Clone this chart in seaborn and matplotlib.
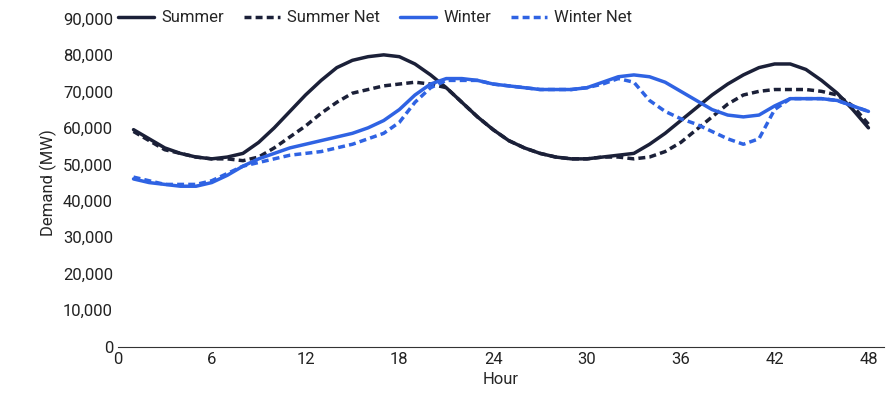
import matplotlib
matplotlib.use("Agg")
import matplotlib.pyplot as plt
import pandas as pd
import seaborn as sns

hours = list(range(1, 49))
summer = [59500, 57000, 54500, 53000, 52000, 51500, 52000, 53000, 56000, 60000, 64500, 69000,
          73000, 76500, 78500, 79500, 80000, 79500, 77500, 74500, 71000, 67000, 63000, 59500,
          56500, 54500, 53000, 52000, 51500, 51500, 52000, 52500, 53000, 55500, 58500, 62000,
          65500, 69000, 72000, 74500, 76500, 77500, 77500, 76000, 73000, 69500, 65000, 60000]
summer_net = [59000, 56500, 54000, 53000, 52000, 51500, 51500, 51000, 52000, 54500, 57500, 60500,
              64000, 67000, 69500, 70500, 71500, 72000, 72500, 72000, 71000, 67000, 63000, 59500,
              56500, 54500, 53000, 52000, 51500, 51500, 52000, 52000, 51500, 52000, 53500, 56000,
              59500, 63000, 66500, 69000, 70000, 70500, 70500, 70500, 70000, 69000, 66000, 61000]
winter = [46000, 45000, 44500, 44000, 44000, 45000, 47000, 49500, 51500, 53000, 54500, 55500,
          56500, 57500, 58500, 60000, 62000, 65000, 69000, 72000, 73500, 73500, 73000, 72000,
          71500, 71000, 70500, 70500, 70500, 71000, 72500, 74000, 74500, 74000, 72500, 70000,
          67500, 65000, 63500, 63000, 63500, 66000, 68000, 68000, 68000, 67500, 66000, 64500]
winter_net = [46500, 45500, 44500, 44500, 44500, 45500, 47500, 49500, 50500, 51500, 52500, 53000,
              53500, 54500, 55500, 57000, 58500, 61500, 67000, 71000, 73000, 73000, 73000, 72000,
              71500, 71000, 70500, 70500, 70500, 71000, 72000, 73500, 72500, 67500, 64500, 62500,
              61000, 59000, 57000, 55500, 57000, 65000, 68000, 68000, 68000, 67500, 66000, 64500]

df = pd.DataFrame({"Hour": hours, "Summer": summer, "Summer Net": summer_net,
                   "Winter": winter, "Winter Net": winter_net})
long = df.melt(id_vars="Hour", var_name="Series", value_name="Demand")

sns.set_style("white")
plt.rcParams["font.family"] = ["Roboto", "DejaVu Sans"]

navy = "#1b2038"
blue = "#2f63e3"
fig, ax = plt.subplots(figsize=(8.93, 4.08), dpi=100)
sns.lineplot(data=long, x="Hour", y="Demand", hue="Series", style="Series",
             palette={"Summer": navy, "Summer Net": navy, "Winter": blue, "Winter Net": blue},
             dashes={"Summer": "", "Summer Net": (2, 1.2), "Winter": "", "Winter Net": (2, 1.2)},
             linewidth=2.5, ax=ax)
ax.set_xlim(0, 49)
ax.set_ylim(0, 90000)
ax.set_xticks(range(0, 49, 6))
ax.set_yticks(range(0, 90001, 10000))
ax.yaxis.set_major_formatter(matplotlib.ticker.FuncFormatter(lambda v, p: f"{int(v):,}"))
ax.tick_params(labelsize=12, colors="#222222", length=0)
ax.set_xlabel("Hour", fontsize=12)
ax.set_ylabel("Demand (MW)", fontsize=12)
for s in ["top", "right", "left"]:
    ax.spines[s].set_visible(False)
ax.spines["bottom"].set_color("#333333")
leg = ax.legend(ncol=4, loc="upper left", bbox_to_anchor=(-0.02, 1.07), frameon=False,
                fontsize=12, handlelength=2.2, handletextpad=0.4, columnspacing=1.2)
leg.set_title(None)
fig.subplots_adjust(left=0.132, right=0.99, top=0.955, bottom=0.15)
fig.savefig("out.png", dpi=100)
